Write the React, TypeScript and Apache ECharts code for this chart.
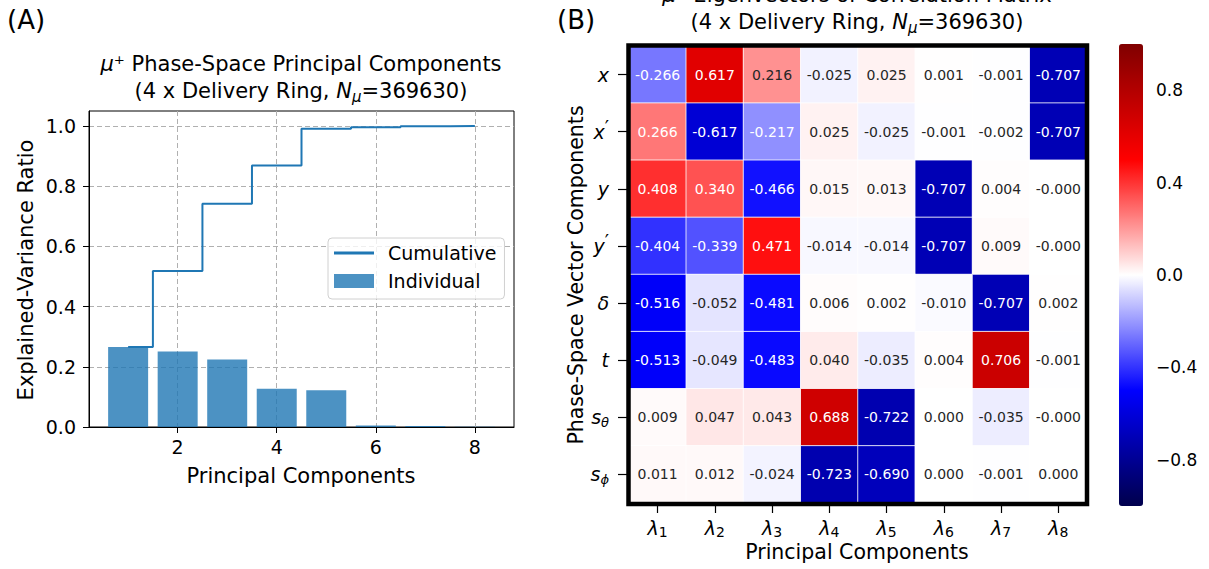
import React, { useEffect, useRef } from "react";
import * as echarts from "echarts";

const FONT = "DejaVu Sans";

// ---------- Panel A data ----------
const pcIndex = [1, 2, 3, 4, 5, 6, 7, 8];
const individualRatio = [0.266, 0.251, 0.224, 0.127, 0.122, 0.005, 0.003, 0.001];
const cumulativeRatio = [0.266, 0.518, 0.742, 0.869, 0.991, 0.996, 0.999, 1.0];
const ratioTicks = [0, 0.2, 0.4, 0.6, 0.8, 1.0];
const pcTicks = [2, 4, 6, 8];

// ---------- Panel B data ----------
const componentNames = ["λ1", "λ2", "λ3", "λ4", "λ5", "λ6", "λ7", "λ8"];
const vectorComponents = ["x", "x′", "y", "y′", "δ", "t", "sθ", "sϕ"];
const row_x = [-0.266, 0.617, 0.216, -0.025, 0.025, 0.001, -0.001, -0.707];
const row_xp = [0.266, -0.617, -0.217, 0.025, -0.025, -0.001, -0.002, -0.707];
const row_y = [0.408, 0.34, -0.466, 0.015, 0.013, -0.707, 0.004, -0.0003];
const row_yp = [-0.404, -0.339, 0.471, -0.014, -0.014, -0.707, 0.009, -0.0003];
const row_delta = [-0.516, -0.052, -0.481, 0.006, 0.002, -0.01, -0.707, 0.002];
const row_t = [-0.513, -0.049, -0.483, 0.04, -0.035, 0.004, 0.706, -0.001];
const row_stheta = [0.009, 0.047, 0.043, 0.688, -0.722, 0.0002, -0.035, -0.0003];
const row_sphi = [0.011, 0.012, -0.024, -0.723, -0.69, 0.0002, -0.001, 0.0002];
const colorbarTicks = [-0.8, -0.4, 0, 0.4, 0.8];

const loadingRows = [row_x, row_xp, row_y, row_yp, row_delta, row_t, row_stheta, row_sphi];
const seismicStops = ["#00004c", "#0000ff", "#ffffff", "#ff0000", "#800000"];
const seismicRGB = [
  [0, 0, 76.5],
  [0, 0, 255],
  [255, 255, 255],
  [255, 0, 0],
  [127.5, 0, 0],
];

function seismic(v: number) {
  const t = Math.max(0, Math.min(1, (v + 1) / 2)) * 4;
  const i = Math.min(3, Math.floor(t));
  const f = t - i;
  const a = seismicRGB[i];
  const b = seismicRGB[i + 1];
  return a.map((c, k) => c + (b[k] - c) * f);
}
function luminance(rgb: number[]) {
  const l = rgb.map((c) => {
    const x = c / 255;
    return x <= 0.03928 ? x / 12.92 : Math.pow((x + 0.055) / 1.055, 2.4);
  });
  return 0.2126 * l[0] + 0.7152 * l[1] + 0.0722 * l[2];
}

const heatData: any[] = [];
loadingRows.forEach((row, r) => {
  row.forEach((v, c) => {
    heatData.push({
      value: [c, r, v],
      label: { color: luminance(seismic(v)) > 0.408 ? "#262626" : "#ffffff" },
    });
  });
});

const titleRich = {
  it: { fontStyle: "italic", fontSize: 21, fontFamily: FONT, fill: "#000" },
  sub: { fontStyle: "italic", fontSize: 15, fontFamily: FONT, fill: "#000", padding: [12, 0, 0, 0] },
};

function textEl(text: string, x: number, y: number, size: number, extra: any = {}, rich?: any) {
  return {
    type: "text",
    x,
    y,
    z: 50,
    rotation: extra.rotation || 0,
    style: {
      text,
      x: 0,
      y: 0,
      textAlign: extra.align || "center",
      textVerticalAlign: "middle",
      fontSize: size,
      fontFamily: FONT,
      fill: "#000",
      rich,
    },
  };
}

const dashed = { color: "#b0b0b0", type: [5, 3], width: 1 };

function buildOption(): any {
  return {
    animation: false,
    textStyle: { fontFamily: FONT },
    grid: [
      { left: 89, top: 111, width: 425, height: 316, show: true, borderColor: "#000", borderWidth: 1, backgroundColor: "transparent" },
      { left: 629, top: 46, width: 458, height: 457 },
      { left: 1119, top: 44, width: 24, height: 462 },
    ],
    xAxis: [
      {
        type: "value",
        gridIndex: 0,
        min: 0.21,
        max: 8.79,
        axisLine: { show: true, onZero: false, lineStyle: { color: "#000", width: 1 } },
        axisTick: { show: true, length: 6, customValues: pcTicks, lineStyle: { color: "#000" } },
        axisLabel: { customValues: pcTicks, fontSize: 19, fontFamily: FONT, color: "#000", margin: 10 },
        splitLine: { show: true, showMinLine: true, showMaxLine: true, lineStyle: dashed },
      },
      {
        type: "category",
        gridIndex: 1,
        data: componentNames,
        axisLine: { show: false },
        axisTick: { show: true, alignWithLabel: true, interval: 0, length: 10, lineStyle: { color: "#000", width: 1.2 } },
        axisLabel: {
          interval: 0,
          margin: 13,
          color: "#000",
          formatter: (v: string) => `{i|λ}{sub|${v.slice(1)}}`,
          rich: {
            i: { fontStyle: "italic", fontSize: 19, fontFamily: FONT, color: "#000" },
            sub: { fontSize: 14, fontFamily: FONT, color: "#000", padding: [9, 0, 0, 0] },
          },
        },
        splitLine: { show: false },
      },
      { type: "value", gridIndex: 2, show: false, min: 0, max: 1 },
    ],
    yAxis: [
      {
        type: "value",
        gridIndex: 0,
        min: 0,
        max: 1.05,
        interval: 0.2,
        axisLine: { show: true, lineStyle: { color: "#000", width: 1 } },
        axisTick: { show: true, length: 6, customValues: ratioTicks, lineStyle: { color: "#000" } },
        axisLabel: {
          customValues: ratioTicks,
          formatter: (v: number) => v.toFixed(1),
          fontSize: 19,
          fontFamily: FONT,
          color: "#000",
          margin: 13,
        },
        splitLine: { show: true, showMinLine: false, showMaxLine: true, lineStyle: dashed },
      },
      {
        type: "category",
        gridIndex: 1,
        data: vectorComponents,
        inverse: true,
        axisLine: { show: false },
        axisTick: { show: true, alignWithLabel: true, interval: 0, length: 11, lineStyle: { color: "#000", width: 1.2 } },
        axisLabel: {
          interval: 0,
          margin: 20,
          color: "#000",
          formatter: (v: string) => {
            if (v.length > 1 && v[0] === "s") return `{i|s}{sub|${v.slice(1)}}`;
            if (v.length > 1 && v[1] === "′") return `{i|${v[0]}}{p|′}`;
            return `{i|${v}}`;
          },
          rich: {
            i: { fontStyle: "italic", fontSize: 19, fontFamily: FONT, color: "#000" },
            p: { fontSize: 19, fontFamily: FONT, color: "#000", padding: [0, 0, 9, 0] },
            sub: { fontStyle: "italic", fontSize: 13, fontFamily: FONT, color: "#000", padding: [10, 0, 0, 0] },
          },
        },
        splitLine: { show: false },
      },
      {
        type: "value",
        gridIndex: 2,
        min: -1,
        max: 1,
        position: "right",
        axisLine: { show: false },
        axisTick: { show: true, length: 5, customValues: colorbarTicks, lineStyle: { color: "#000" } },
        axisLabel: {
          customValues: colorbarTicks,
          formatter: (v: number) => (v < 0 ? "−" + Math.abs(v).toFixed(1) : v.toFixed(1)),
          fontSize: 17,
          fontFamily: FONT,
          color: "#000",
          margin: 13,
        },
        splitLine: { show: false },
      },
    ],
    legend: {
      left: 328,
      top: 238,
      orient: "vertical",
      padding: [5, 8, 8, 6],
      itemGap: 8,
      itemWidth: 40,
      itemHeight: 14,
      borderColor: "#d0d0d0",
      borderWidth: 1,
      borderRadius: 4,
      backgroundColor: "rgba(255,255,255,0.8)",
      selectedMode: false,
      textStyle: { fontFamily: FONT, fontSize: 19, color: "#000", padding: [0, 0, 0, 9], lineHeight: 20 },
      data: [
        { name: "Cumulative", icon: "path://M0,0H40V3H0Z" },
        { name: "Individual", icon: "path://M0,0H40V14H0Z" },
      ],
    },
    visualMap: {
      type: "continuous",
      min: -1,
      max: 1,
      seriesIndex: 2,
      dimension: 2,
      calculable: false,
      hoverLink: false,
      left: 1119,
      top: 44,
      itemWidth: 24,
      itemHeight: 462,
      padding: 0,
      inRange: { color: seismicStops },
    },
    series: [
      {
        name: "Individual",
        type: "bar",
        xAxisIndex: 0,
        yAxisIndex: 0,
        barWidth: 40,
        itemStyle: { color: "rgba(31,119,180,0.8)" },
        data: pcIndex.map((x, i) => [x, individualRatio[i]]),
        emphasis: { disabled: true },
      },
      {
        name: "Cumulative",
        type: "line",
        xAxisIndex: 0,
        yAxisIndex: 0,
        step: "middle",
        symbol: "none",
        color: "#1f77b4",
        itemStyle: { color: "#1f77b4" },
        lineStyle: { color: "#1f77b4", width: 2 },
        data: pcIndex.map((x, i) => [x, cumulativeRatio[i]]),
        emphasis: { disabled: true },
      },
      {
        type: "heatmap",
        xAxisIndex: 1,
        yAxisIndex: 1,
        data: heatData,
        itemStyle: { borderColor: "#ffffff", borderWidth: 0.8 },
        label: {
          show: true,
          fontFamily: FONT,
          fontSize: 14,
          formatter: (p: any) => p.value[2].toFixed(3),
        },
        emphasis: { disabled: true },
      },
      {
        type: "scatter",
        xAxisIndex: 2,
        yAxisIndex: 2,
        data: [],
      },
    ],
    graphic: [
      textEl("(A)", 7, 20, 26, { align: "left" }),
      textEl("(B)", 557, 20, 26, { align: "left" }),
      textEl("{it|μ}⁺ Phase-Space Principal Components", 301, 64, 21, {}, titleRich),
      textEl("(4 x Delivery Ring, {it|N}{sub|μ}=369630)", 301, 91, 21, {}, titleRich),
      textEl("{it|μ}⁺ Eigenvectors of Correlation Matrix", 857, -5, 21, {}, titleRich),
      textEl("(4 x Delivery Ring, {it|N}{sub|μ}=369630)", 857, 22, 21, {}, titleRich),
      textEl("Explained-Variance Ratio", 26, 270, 21, { rotation: Math.PI / 2 }),
      textEl("Principal Components", 301, 476, 21),
      textEl("Principal Components", 857, 552, 20.5),
      textEl("Phase-Space Vector Components", 576, 275, 20.5, { rotation: Math.PI / 2 }),
      {
        type: "rect",
        z: 100,
        shape: { x: 628.5, y: 45.5, width: 458.5, height: 458.5 },
        style: { fill: "none", stroke: "#000", lineWidth: 4.5 },
      },
    ],
  };
}

export default function App() {
  const ref = useRef<HTMLDivElement>(null);
  useEffect(() => {
    if (!ref.current) return;
    const chart = echarts.init(ref.current, null, { renderer: "svg" });
    chart.setOption(buildOption());
    return () => chart.dispose();
  }, []);
  return (
    <div
      ref={ref}
      style={{ position: "absolute", left: 0, top: 0, width: 1209, height: 569, background: "#fff" }}
    />
  );
}
